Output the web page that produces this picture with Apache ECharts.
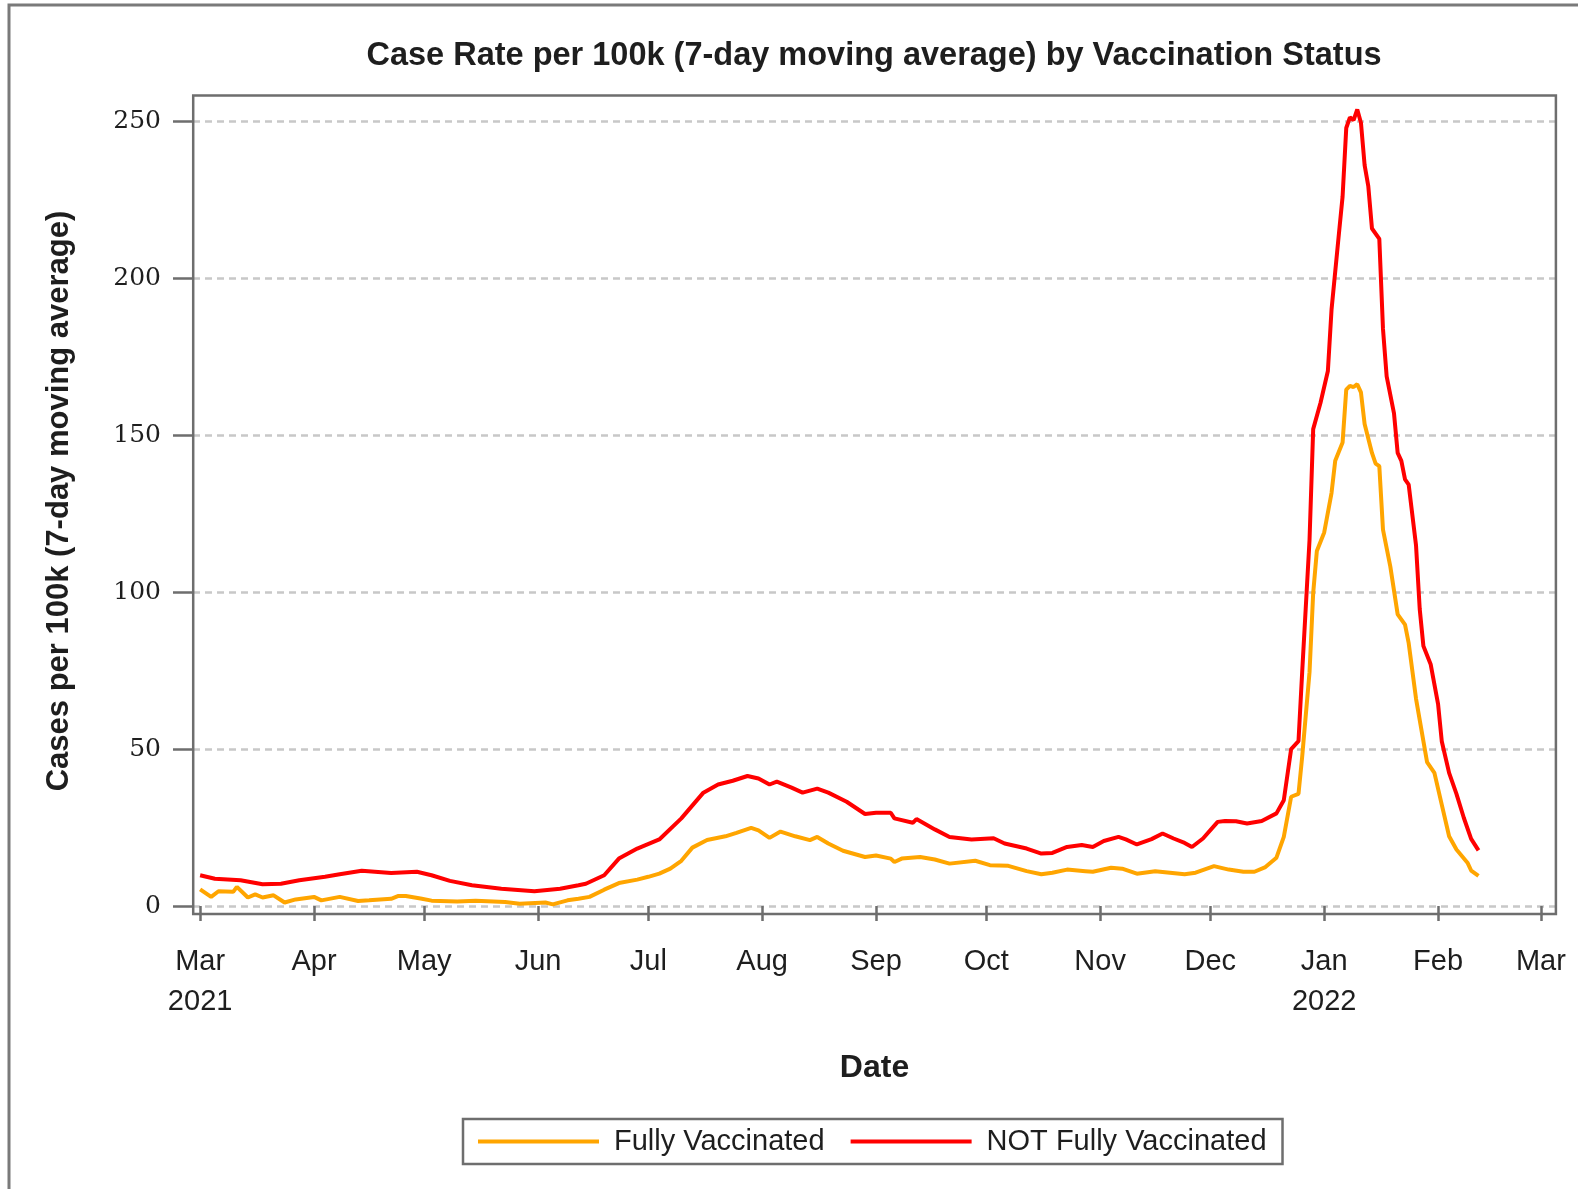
<!DOCTYPE html>
<html>
<head>
<meta charset="utf-8">
<script src="https://cdn.jsdelivr.net/npm/echarts@6/dist/echarts.min.js"></script>
<style>
  html, body { margin: 0; padding: 0; background: #ffffff; }
  #chart { width: 1578px; height: 1189px; }
</style>
</head>
<body>
<div id="chart"></div>
<script>
// days counted from Mar 1, 2021
const fullyDays = [0, 3, 5, 9, 10, 13, 15, 17, 20, 23, 26, 31, 33, 38, 43, 46, 52, 54, 56, 60,
  63, 70, 75, 83, 87, 94, 96, 100, 103, 106, 110, 114, 119, 122, 125, 128, 131, 134, 138, 143,
  146, 150, 152, 155, 158, 162, 166, 168, 171, 175, 181, 184, 188, 189, 191, 196, 200, 204, 211, 215,
  220, 225, 229, 232, 236, 241, 243, 248, 251, 255, 260, 268, 271, 276, 280, 284, 287, 290, 293, 295,
  297, 299, 300, 302, 303, 304, 306, 308, 309, 311, 312, 313, 314, 315, 316, 317, 319, 320, 321, 322,
  324, 326, 328, 329, 331, 333, 334, 336, 338, 340, 342, 345, 346, 348];
const fullyValues = [5.3, 2.9, 4.7, 4.5, 6.1, 2.7, 3.7, 2.7, 3.4, 1.1, 2.1, 2.9, 1.8, 2.9, 1.6, 1.8, 2.3, 3.2, 3.2, 2.4,
  1.7, 1.4, 1.7, 1.3, 0.7, 1.1, 0.5, 1.8, 2.3, 2.9, 5.2, 7.3, 8.4, 9.3, 10.3, 11.9, 14.4, 18.6, 21.0, 22.2,
  23.3, 24.9, 24.1, 21.7, 23.7, 22.2, 21.0, 22.0, 19.9, 17.6, 15.6, 16.1, 15.1, 14.0, 15.1, 15.6, 14.8, 13.5, 14.4, 13.0,
  12.8, 11.1, 10.1, 10.6, 11.6, 11.1, 10.9, 12.2, 11.9, 10.3, 11.1, 10.1, 10.6, 12.7, 11.6, 10.9, 10.9, 12.4, 15.4, 22.0,
  34.8, 35.7, 47.5, 74.4, 99.7, 113.1, 119.0, 131.6, 141.8, 147.6, 164.5, 165.7, 165.3, 166.2, 163.6, 153.5, 144.3, 140.9, 140.1, 119.9,
  108.1, 92.9, 89.6, 83.7, 66.0, 52.5, 45.8, 42.4, 32.3, 22.2, 18.0, 13.8, 11.3, 9.6];

const notFullyDays = [0, 4, 11, 17, 22, 27, 34, 38, 44, 52, 59, 63, 68, 74, 82, 91, 98, 103, 105, 110,
  114, 119, 125, 131, 137, 141, 145, 149, 152, 155, 157, 161, 164, 168, 171, 176, 181, 184, 188, 189,
  194, 195, 200, 204, 210, 216, 219, 225, 229, 232, 236, 240, 243, 246, 250, 252, 255, 259, 262, 265,
  268, 270, 273, 277, 279, 282, 285, 289, 293, 295, 297, 299, 300, 302, 303, 305, 307, 308, 310, 311,
  312, 313, 314, 315, 316, 317, 318, 319, 321, 322, 323, 325, 326, 327, 328, 329, 331, 332, 333, 335,
  337, 338, 340, 342, 344, 346, 348];
const notFullyValues = [9.8, 8.7, 8.2, 6.9, 7.1, 8.2, 9.3, 10.1, 11.2, 10.5, 10.9, 9.8, 8.0, 6.6, 5.5, 4.7, 5.5, 6.6, 7.1, 9.8,
  15.1, 18.3, 21.2, 27.9, 36.1, 38.7, 39.9, 41.4, 40.6, 38.7, 39.6, 37.7, 36.1, 37.4, 36.1, 33.2, 29.3, 29.7, 29.7, 27.9,
  26.5, 27.7, 24.4, 22.0, 21.2, 21.6, 19.9, 18.3, 16.7, 16.9, 18.8, 19.4, 18.8, 20.7, 22.0, 21.2, 19.6, 21.3, 23.1, 21.5,
  20.1, 18.8, 21.5, 26.8, 27.1, 27.0, 26.3, 27.1, 29.5, 33.7, 50.0, 52.5, 74.4, 116.5, 151.9, 160.3, 170.4, 190.0, 214.1, 225.9,
  247.8, 251.2, 250.3, 253.7, 249.5, 236.0, 229.3, 215.8, 212.5, 183.8, 168.7, 156.9, 144.3, 141.8, 135.9, 134.2, 114.8, 94.6, 82.8, 76.9,
  64.3, 52.5, 42.4, 35.7, 28.1, 21.4, 17.7];

const monthTicks = ['2021-03-01', '2021-04-01', '2021-05-01', '2021-06-01', '2021-07-01', '2021-08-01', '2021-09-01',
  '2021-10-01', '2021-11-01', '2021-12-01', '2022-01-01', '2022-02-01', '2022-03-01'];
const monthTickLabels = ['Mar\n2021', 'Apr', 'May', 'Jun', 'Jul', 'Aug', 'Sep', 'Oct', 'Nov', 'Dec', 'Jan\n2022', 'Feb', 'Mar'];
const yTicks = [0, 50, 100, 150, 200, 250];

const DAY = 86400000;
function dayToTime(d) { return new Date(2021, 2, 1 + d).getTime(); }
function dateToTime(s) {
  const p = s.split('-').map(Number);
  return new Date(p[0], p[1] - 1, p[2]).getTime();
}

const tickTimes = monthTicks.map(dateToTime);
const font = '"Liberation Sans", Arial, sans-serif';
const axisGray = '#6e6e6e';
const textColor = '#1e1e1e';
const orange = '#ffa500';
const red = '#ff0000';

const chart = echarts.init(document.getElementById('chart'), null, { renderer: 'canvas' });

chart.setOption({
  animation: false,
  backgroundColor: '#ffffff',
  title: {
    text: 'Case Rate per 100k (7-day moving average) by Vaccination Status',
    left: 869,
    top: 35,
    textAlign: 'center',
    textStyle: { fontFamily: font, fontWeight: 'bold', fontSize: 32.5, color: textColor }
  },
  grid: { left: 193, right: 22, top: 96, bottom: 283 },
  xAxis: {
    // timestamps on a linear scale, ticks at month starts
    type: 'value',
    min: dateToTime('2021-03-01') - 1.94 * DAY,
    max: dateToTime('2022-03-01') + 4.1 * DAY,
    offset: 8,
    axisLine: { show: false },
    axisTick: { show: true, length: 15, customValues: tickTimes, lineStyle: { color: axisGray, width: 2.5 } },
    axisLabel: {
      customValues: tickTimes,
      formatter: function (v) {
        const i = tickTimes.indexOf(v);
        return i >= 0 ? monthTickLabels[i] : '';
      },
      fontFamily: font,
      fontSize: 29,
      lineHeight: 40,
      color: textColor,
      margin: 28
    },
    splitLine: { show: false },
    name: 'Date',
    nameLocation: 'middle',
    nameGap: 138,
    nameTextStyle: { fontFamily: font, fontWeight: 'bold', fontSize: 32, color: textColor }
  },
  yAxis: {
    type: 'value',
    min: 0,
    max: 258,
    interval: 50,
    axisLine: { show: false },
    axisTick: { show: true, length: 20, customValues: yTicks, lineStyle: { color: axisGray, width: 2.5 } },
    axisLabel: {
      customValues: yTicks,
      fontFamily: '"DejaVu Serif", serif',
      fontSize: 25,
      color: textColor,
      margin: 32
    },
    splitLine: { show: true, lineStyle: { color: '#c8c8c8', width: 2.5, type: [7, 5] } },
    name: 'Cases per 100k (7-day moving average)',
    nameLocation: 'middle',
    nameGap: 118,
    nameTextStyle: { fontFamily: font, fontWeight: 'bold', fontSize: 31, color: textColor }
  },
  legend: {
    left: 463,
    top: 1119,
    itemWidth: 121,
    itemHeight: 4,
    itemGap: 26,
    padding: [8, 16, 8, 15],
    borderColor: axisGray,
    borderWidth: 2.5,
    textStyle: { fontFamily: font, fontSize: 29, color: textColor, padding: [0, 0, 0, 10] },
    data: [
      { name: 'Fully Vaccinated', icon: 'rect', itemStyle: { color: orange } },
      { name: 'NOT Fully Vaccinated', icon: 'rect', itemStyle: { color: red } }
    ]
  },
  graphic: [
    {
      type: 'rect',
      silent: true,
      z: -10,
      shape: { x: 9, y: 5, width: 1620, height: 1230 },
      style: { fill: 'none', stroke: '#7a7a7a', lineWidth: 3 }
    },
    {
      type: 'rect',
      silent: true,
      z: 100,
      shape: { x: 193.2, y: 95.6, width: 1362.7, height: 818.4 },
      style: { fill: 'none', stroke: axisGray, lineWidth: 2.5 }
    }
  ],
  series: [
    {
      type: 'line',
      name: 'Fully Vaccinated',
      symbol: 'none',
      data: fullyDays.map((d, i) => [dayToTime(d), fullyValues[i]]),
      lineStyle: { color: orange, width: 4 },
      itemStyle: { color: orange }
    },
    {
      type: 'line',
      name: 'NOT Fully Vaccinated',
      symbol: 'none',
      data: notFullyDays.map((d, i) => [dayToTime(d), notFullyValues[i]]),
      lineStyle: { color: red, width: 4 },
      itemStyle: { color: red }
    }
  ]
});
</script>
</body>
</html>
